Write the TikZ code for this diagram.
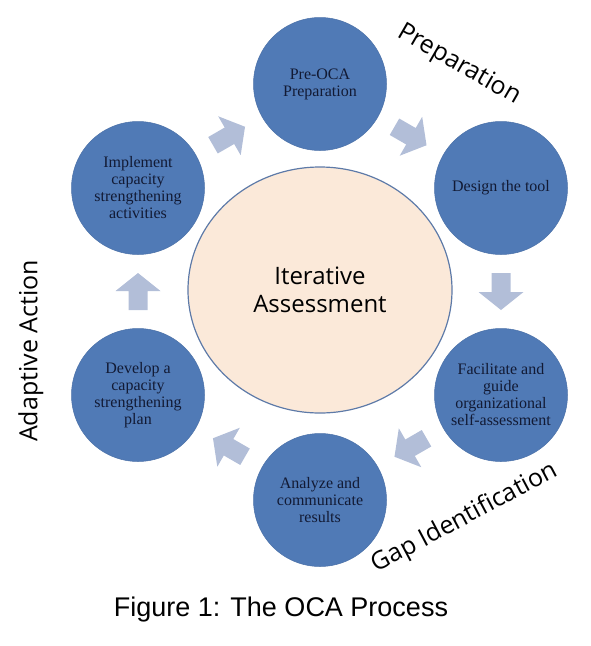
\documentclass[tikz,border=0pt]{standalone}
\usepackage{fontspec}
\setmainfont{Liberation Serif}
\newfontfamily\phasefont{Open Sans}
\newfontfamily\capfont{Liberation Sans}
\usetikzlibrary{calc,shapes.geometric}

\definecolor{stageblue}{RGB}{80,122,182}
\definecolor{stageink}{RGB}{18,26,52}
\definecolor{flowgrey}{RGB}{178,190,216}
\definecolor{corepeach}{RGB}{251,233,217}
\definecolor{coreedge}{RGB}{93,122,168}

\begin{document}
\begin{tikzpicture}[x=1pt, y=-1pt,
    stage/.style={circle, fill=stageblue, draw=stageblue!92!black, line width=0.5pt,
        minimum size=133pt, inner sep=0pt, align=center, text=stageink,
        font=\fontsize{16}{17}\selectfont},
    core/.style={ellipse, fill=corepeach, draw=coreedge, line width=1.2pt,
        minimum width=264pt, minimum height=246pt, align=center,
        font=\phasefont\fontsize{24}{28}\selectfont},
    phase/.style={font=\phasefont\fontsize{25}{30}\selectfont},
    flow/.pic={\fill[flowgrey] (-18.5,-9.5) -- (0.5,-9.5) -- (0.5,-22.5) -- (18.5,0)
        -- (0.5,22.5) -- (0.5,9.5) -- (-18.5,9.5) -- cycle;}]

        \useasboundingbox (0,0) rectangle (590,646);

        % Centre of the cycle
        \node[core] (core) at (320,290) {Iterative\\Assessment};

        % Stages of the cycle
        \node[stage] (prep) at (320,84) {Pre-OCA\\Preparation};
        \node[stage] (design) at (501,188) {Design the tool};
        \node[stage] (facil) at (501,395) {Facilitate and\\guide\\organizational\\self-assessment};
        \node[stage] (analyze) at (320,500) {Analyze and\\communicate\\results};
        \node[stage] (develop) at (138,395) {Develop a\\capacity\\strengthening\\plan};
        \node[stage] (implement) at (138,188) {Implement\\capacity\\strengthening\\activities};

        % Block arrows between stages
        \pic[rotate=-30] at ($(prep)!0.5!(design)$) {flow};
        \pic[rotate=-90] at ($(design)!0.5!(facil)$) {flow};
        \pic[rotate=-150] at ($(facil)!0.5!(analyze)$) {flow};
        \pic[rotate=150] at ($(analyze)!0.5!(develop)$) {flow};
        \pic[rotate=90] at ($(develop)!0.5!(implement)$) {flow};
        \pic[rotate=30] at ($(implement)!0.5!(prep)$) {flow};

        % Phase labels
        \node[phase, rotate=-30] (preplabel) at (459,65) {Preparation};
        \node[phase, rotate=28] (gaplabel) at (465,518) {Gap Identification};
        \node[phase, rotate=90] (actlabel) at (31,351) {Adaptive Action};

        % Caption
        \node[font=\capfont\fontsize{27}{30}\selectfont] (caption) at (281,610) {Figure 1: The OCA Process};

    \end{tikzpicture}
\end{document}
